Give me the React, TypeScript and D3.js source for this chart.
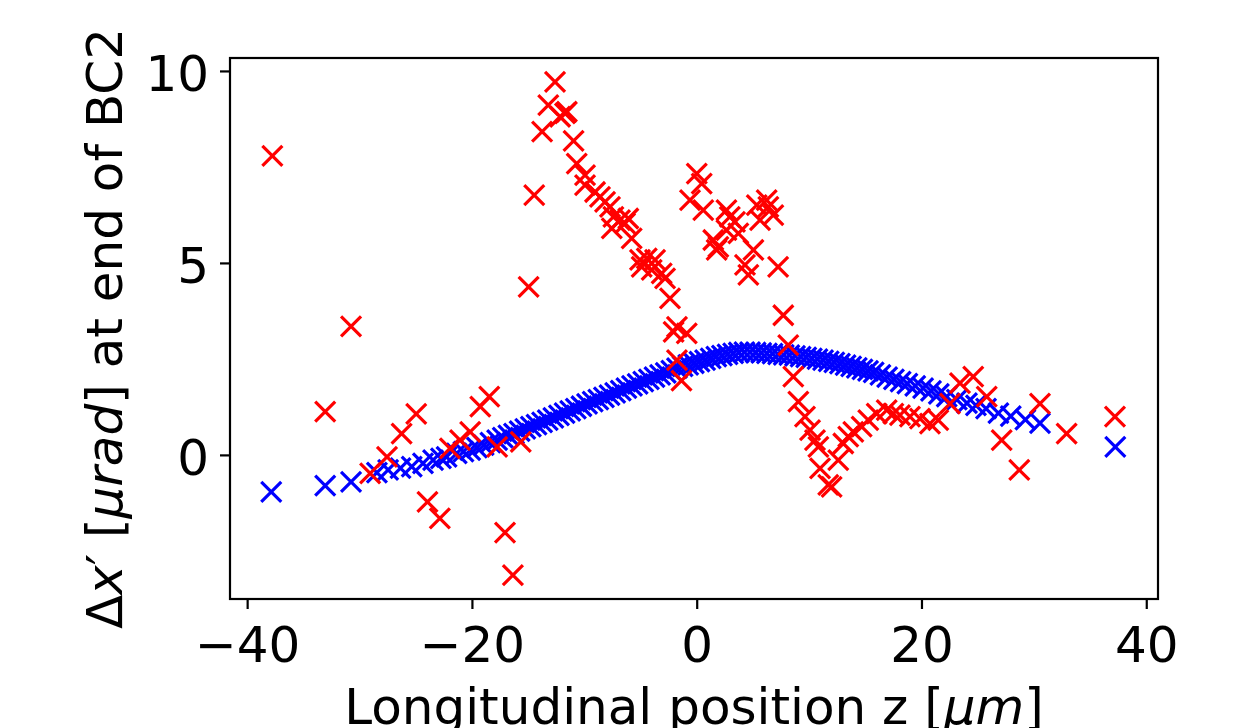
import React from "react";
import * as d3 from "d3";

const blueZ = [-37.9, -33.1, -30.8, -28.5, -27.5, -26.4, -25.4, -24.4, -23.5, -22.8, -22.3, -21.4, -20.8, -20.2, -19.6, -19.0, -18.4, -17.8, -17.3, -16.8, -16.3, -15.8, -15.3, -14.8, -14.3, -13.8, -13.3, -12.8, -12.3, -11.8, -11.3, -10.8, -10.3, -9.8, -9.3, -8.8, -8.3, -7.8, -7.3, -6.8, -6.3, -5.8, -5.3, -4.8, -4.3, -3.8, -3.3, -2.8, -2.3, -1.8, -1.3, -0.8, -0.3, 0.2, 0.7, 1.2, 1.7, 2.2, 2.7, 3.2, 3.7, 4.2, 4.7, 5.2, 5.7, 6.2, 6.7, 7.2, 7.7, 8.2, 8.7, 9.2, 9.7, 10.2, 10.7, 11.2, 11.7, 12.2, 12.7, 13.2, 13.7, 14.2, 14.7, 15.2, 15.7, 16.3, 16.9, 17.5, 18.1, 18.7, 19.4, 20.1, 20.8, 21.5, 22.2, 23.1, 24.0, 24.8, 25.7, 26.8, 27.9, 29.2, 30.5, 37.2];
const blueV = [-0.95, -0.79, -0.69, -0.45, -0.38, -0.33, -0.29, -0.21, -0.12, -0.08, -0.04, 0.05, 0.10, 0.14, 0.20, 0.27, 0.33, 0.40, 0.46, 0.52, 0.57, 0.63, 0.69, 0.75, 0.80, 0.86, 0.92, 0.98, 1.04, 1.10, 1.16, 1.22, 1.28, 1.34, 1.40, 1.45, 1.51, 1.57, 1.63, 1.69, 1.75, 1.81, 1.86, 1.92, 1.98, 2.04, 2.10, 2.15, 2.21, 2.27, 2.32, 2.36, 2.40, 2.44, 2.48, 2.53, 2.57, 2.60, 2.63, 2.66, 2.68, 2.69, 2.69, 2.68, 2.67, 2.66, 2.65, 2.63, 2.62, 2.61, 2.59, 2.57, 2.55, 2.53, 2.51, 2.48, 2.45, 2.42, 2.39, 2.35, 2.32, 2.28, 2.24, 2.20, 2.16, 2.10, 2.04, 1.98, 1.92, 1.87, 1.81, 1.75, 1.68, 1.60, 1.53, 1.45, 1.36, 1.30, 1.22, 1.10, 1.02, 0.93, 0.84, 0.22];

const redZ = [-37.8, -33.1, -30.8, -29.1, -27.6, -26.3, -25.0, -24.0, -22.9, -22.0, -21.1, -20.2, -19.3, -18.5, -17.8, -15.7, -17.1, -16.4,
  -15.0, -14.5, -13.8, -13.25, -12.65, -12.2, -11.76, -11.6, -11.0, -10.72, -9.98, -9.98, -9.09, -8.65, -8.2, -7.76, -7.46, -7.6, -6.87, -6.42, -6.13, -5.83, -5.09, -4.49, -3.75, -4.94, -4.05, -3.16, -2.86, -2.42, -1.8, -2.1, -0.93, -1.8, -1.4,
  -0.04, 0.4, -0.64, 0.54, 2.6, 2.9, 3.36, 1.43, 1.88, 1.73, 2.6, 3.66, 5.0, 4.25, 4.55, 6.18, 6.33, 5.59, 6.77, 5.3, 7.2, 7.66, 8.1, 8.55, 9.0, 9.59, 10.04, 10.48, 10.78, 10.93, 11.66, 11.96, 12.55, 13.0, 13.44, 13.89, 14.63, 15.22, 15.97, 16.86, 17.45, 18.04, 18.93, 19.82, 20.71, 21.45, 22.49, 23.38, 24.56, 25.76, 27.09, 28.66, 30.5, 32.87, 37.17];
const redV = [7.80, 1.14, 3.36, -0.47, -0.04, 0.57, 1.08, -1.21, -1.64, 0.18, 0.40, 0.61, 1.27, 1.53, 0.22, 0.35, -2.01, -3.12,
  4.39, 6.78, 8.43, 9.12, 9.73, 8.82, 8.91, 8.95, 8.19, 7.60, 7.30, 7.04, 6.86, 6.73, 6.60, 6.47, 6.21, 5.91, 6.13, 6.04, 6.17, 5.65, 5.09, 5.13, 5.09, 4.91, 4.83, 4.74, 4.61, 4.09, 3.35, 3.22, 3.18, 2.48, 1.95,
  7.34, 7.08, 6.65, 6.39, 6.39, 6.21, 6.08, 5.61, 5.43, 5.35, 5.87, 5.78, 5.35, 4.96, 4.70, 6.65, 6.47, 6.13, 6.26, 6.52, 4.91, 3.65, 2.87, 2.05, 1.40, 1.01, 0.66, 0.40, 0.22, -0.34, -0.77, -0.82, -0.12, 0.31, 0.49, 0.61, 0.75, 0.92, 1.09, 1.18, 1.09, 1.05, 1.01, 0.96, 0.83, 0.92, 1.35, 1.88, 2.05, 1.53, 0.40, -0.38, 1.35, 0.57, 1.01];

const xTicks = [-40, -20, 0, 20, 40];
const yTicks = [0, 5, 10];

const W = 1254, H = 728;
const L = 230, R = 1158, T = 58, B = 599;
const FONT = "DejaVu Sans";

function fmt(v: number) {
  return v < 0 ? "\u2212" + Math.abs(v) : String(v);
}

function Cross({ x, y, color }: { x: number; y: number; color: string }) {
  const h = 10;
  return (
    <path d={`M${x - h},${y - h}L${x + h},${y + h}M${x - h},${y + h}L${x + h},${y - h}`} stroke={color} strokeWidth={3.2} fill="none" />
  );
}

export default function App() {
  const x = d3.scaleLinear().domain([-41.57, 41.0]).range([L, R]);
  const y = d3.scaleLinear().domain([-3.74, 10.35]).range([B, T]);
  const blue = blueZ.map((z, i) => [x(z), y(blueV[i])]);
  const red = redZ.map((z, i) => [x(z), y(redV[i])]);
  return (
    <svg width={W} height={H} style={{ position: "absolute", left: 0, top: 0, background: "#fff" }} fontFamily={FONT}>
      <rect x={0} y={0} width={W} height={H} fill="#fff" />
      {blue.map((p, i) => <Cross key={"b" + i} x={p[0]} y={p[1]} color="#0000ff" />)}
      {red.map((p, i) => <Cross key={"r" + i} x={p[0]} y={p[1]} color="#ff0000" />)}
      <rect x={L} y={T} width={R - L} height={B - T} fill="none" stroke="#000" strokeWidth={2.2} />
      {xTicks.map((t) => (
        <g key={"x" + t}>
          <line x1={x(t)} x2={x(t)} y1={B} y2={B + 10} stroke="#000" strokeWidth={2.2} />
          <text x={x(t)} y={662} fontSize={50} textAnchor="middle">{fmt(t)}</text>
        </g>
      ))}
      {yTicks.map((t) => (
        <g key={"y" + t}>
          <line x1={L - 10} x2={L} y1={y(t)} y2={y(t)} stroke="#000" strokeWidth={2.2} />
          <text x={209} y={y(t) + 20} fontSize={50} textAnchor="end">{fmt(t)}</text>
        </g>
      ))}
      <text x={(L + R) / 2} y={724} fontSize={50} textAnchor="middle">
        Longitudinal position z [<tspan fontStyle="italic">μm</tspan>]
      </text>
      <text transform={`translate(122,${(T + B) / 2}) rotate(-90)`} fontSize={50} textAnchor="middle">
        Δ<tspan fontStyle="italic">x</tspan>′ [<tspan fontStyle="italic">μrad</tspan>] at end of BC2
      </text>
    </svg>
  );
}
